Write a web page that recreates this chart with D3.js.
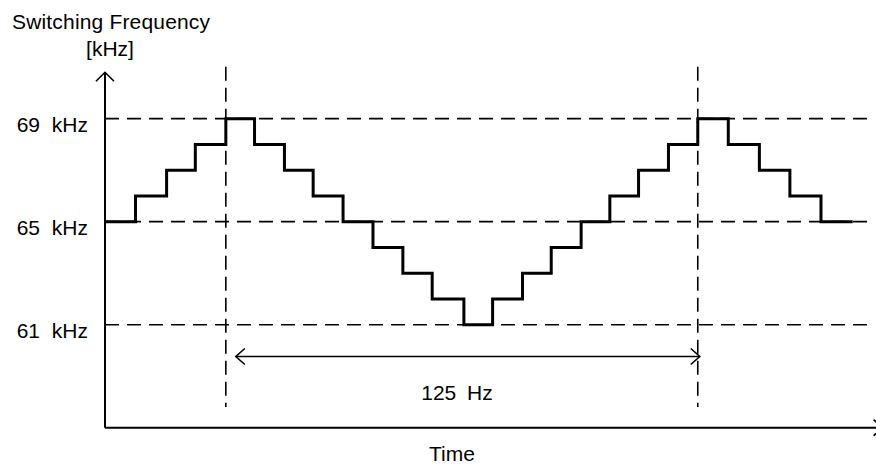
<!DOCTYPE html>
<html>
<head>
<meta charset="utf-8">
<script src="https://cdn.jsdelivr.net/npm/d3@7"></script>
<style>
  body { margin: 0; background: #fff; }
  text { font-family: "Liberation Sans", Arial, sans-serif; fill: #000; }
</style>
</head>
<body>
<div id="chart"></div>
<script>
// step edges in ms and the frequency held on each step
var stepTimes = [0, 0.51, 1.03, 1.51, 2.02, 2.50, 3.00, 3.48, 3.98, 4.48, 4.98, 5.47, 6.00,
                 6.48, 6.98, 7.46, 7.96, 8.44, 8.92, 9.42, 9.91, 10.42, 10.94, 11.45, 11.97, 12.5]
var stepFreqs = [65, 66, 67, 68, 69, 68, 67, 66, 65, 64, 63, 62, 61,
                 62, 63, 64, 65, 66, 67, 68, 69, 68, 67, 66, 65]
var freqTicks = [61, 65, 69]
var periodMarks = [2.02, 9.91]   // one 125 Hz modulation period

var width = 876
height = 464

var x = d3.scaleLinear().domain([0, 13]).range([105, 882.6])
var y = d3.scaleLinear().domain([57, 70.8]).range([427.7, 72.3])

var svg = d3.select("#chart")
    .append("svg")
    .attr("width", width)
    .attr("height", height)

// dashed guide lines
svg.selectAll("hgrid")
    .data(freqTicks)
    .enter()
    .append("line")
    .attr("x1", x(0))
    .attr("x2", 868)
    .attr("y1", function (d) { return y(d) })
    .attr("y2", function (d) { return y(d) })
    .attr("stroke", "#000")
    .attr("stroke-width", 1.6)
    .attr("stroke-dasharray", "14,8")

svg.selectAll("vgrid")
    .data(periodMarks)
    .enter()
    .append("line")
    .attr("x1", function (d) { return x(d) })
    .attr("x2", function (d) { return x(d) })
    .attr("y1", 66.7)
    .attr("y2", 407)
    .attr("stroke", "#000")
    .attr("stroke-width", 1.6)
    .attr("stroke-dasharray", "14,7")

// axes: plain lines with open arrow heads
svg.append("path")
    .attr("d", "M" + x(0) + "," + y(57) + "V" + y(70.8))
    .attr("stroke", "#000")
    .attr("stroke-width", 2)
    .attr("fill", "none")
svg.append("path")
    .attr("d", "M" + (x(0) - 9) + "," + (y(70.8) + 9) + "L" + x(0) + "," + y(70.8) + "L" + (x(0) + 9) + "," + (y(70.8) + 9))
    .attr("stroke", "#000")
    .attr("stroke-width", 1.6)
    .attr("fill", "none")

svg.append("path")
    .attr("d", "M" + x(0) + "," + y(57) + "H" + x(13))
    .attr("stroke", "#000")
    .attr("stroke-width", 2)
    .attr("fill", "none")
svg.append("path")
    .attr("d", "M" + (x(13) - 9) + "," + (y(57) - 8) + "L" + x(13) + "," + y(57) + "L" + (x(13) - 9) + "," + (y(57) + 8))
    .attr("stroke", "#000")
    .attr("stroke-width", 1.6)
    .attr("fill", "none")

// y tick labels
var yAxis = svg.append("g")
    .attr("transform", "translate(" + x(0) + ",0)")
    .call(d3.axisLeft(y).tickValues(freqTicks).tickSize(0).tickPadding(17)
        .tickFormat(function (d) { return d + " kHz" }))
yAxis.select(".domain").remove()
yAxis.selectAll("text")
    .attr("dy", "0.6em")
    .style("font-family", "'Liberation Sans', Arial, sans-serif")
    .style("font-size", "21px")
    .style("word-spacing", "6px")

// stepped frequency trace
var points = stepFreqs.map(function (f, i) { return [stepTimes[i], f] })
points.push([stepTimes[stepTimes.length - 1], stepFreqs[stepFreqs.length - 1]])

var line = d3.line()
    .x(function (d) { return x(d[0]) })
    .y(function (d) { return y(d[1]) })
    .curve(d3.curveStepAfter)

svg.append("path")
    .datum(points)
    .attr("d", line)
    .attr("fill", "none")
    .attr("stroke", "#000")
    .attr("stroke-width", 3)
    .attr("stroke-linejoin", "miter")

// period arrow
var ax0 = x(periodMarks[0]) + 10
var ax1 = x(periodMarks[1]) + 2
var ay = 356.5
svg.append("path")
    .attr("d", "M" + ax0 + "," + ay + "H" + ax1)
    .attr("stroke", "#000")
    .attr("stroke-width", 1.6)
    .attr("fill", "none")
svg.append("path")
    .attr("d", "M" + (ax0 + 9) + "," + (ay - 8) + "L" + ax0 + "," + ay + "L" + (ax0 + 9) + "," + (ay + 8))
    .attr("stroke", "#000")
    .attr("stroke-width", 1.6)
    .attr("fill", "none")
svg.append("path")
    .attr("d", "M" + (ax1 - 9) + "," + (ay - 8) + "L" + ax1 + "," + ay + "L" + (ax1 - 9) + "," + (ay + 8))
    .attr("stroke", "#000")
    .attr("stroke-width", 1.6)
    .attr("fill", "none")

// texts
svg.append("text")
    .attr("x", 457)
    .attr("y", 400)
    .attr("text-anchor", "middle")
    .style("font-size", "21px")
    .style("word-spacing", "5px")
    .text("125 Hz")

svg.append("text")
    .attr("x", 452)
    .attr("y", 461)
    .attr("text-anchor", "middle")
    .style("font-size", "21px")
    .text("Time")

svg.append("text")
    .attr("x", 12)
    .attr("y", 29)
    .attr("textLength", 198)
    .style("font-size", "21px")
    .text("Switching Frequency")

svg.append("text")
    .attr("x", 110)
    .attr("y", 56)
    .attr("text-anchor", "middle")
    .style("font-size", "21px")
    .text("[kHz]")
</script>
</body>
</html>
